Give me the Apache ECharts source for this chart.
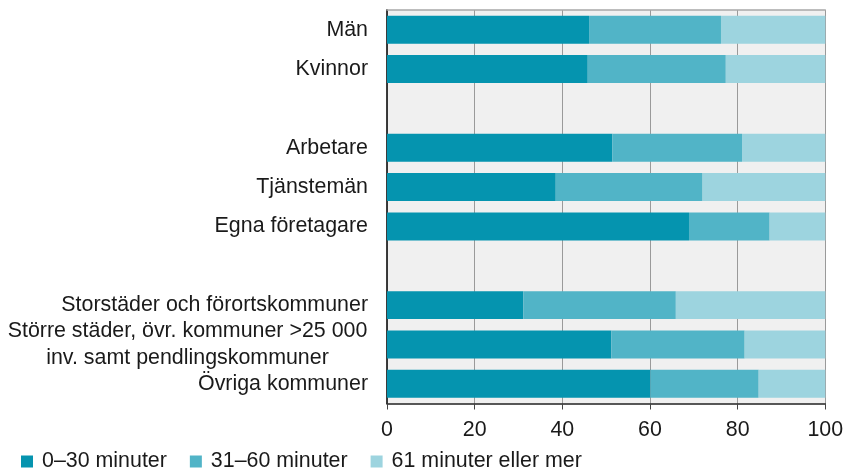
<!DOCTYPE html>
<html>
<head>
<meta charset="utf-8">
<script src="https://cdn.jsdelivr.net/npm/echarts@6/dist/echarts.min.js"></script>
<style>html,body{margin:0;padding:0;background:#fff;}#c{width:851px;height:472px;}</style>
</head>
<body>
<div id="c"></div>
<script>
const categories = ['Män', 'Kvinnor', ' ', 'Arbetare', 'Tjänstemän', 'Egna företagare', '  ',
  'Storstäder och förortskommuner', 'Större städer, övr. kommuner >25 000\ninv. samt pendlingskommuner', 'Övriga kommuner'];
const seriesNames = ['0–30 minuter', '31–60 minuter', '61 minuter eller mer'];
const short = [46.1, 45.8, null, 51.4, 38.5, 68.9, null, 31.1, 51.2, 60.1];
const medium = [30.1, 31.5, null, 29.6, 33.5, 18.4, null, 34.8, 30.4, 24.7];
const long = [23.8, 22.7, null, 19.0, 28.0, 12.7, null, 34.1, 18.4, 15.2];
const xTicks = [0, 20, 40, 60, 80, 100];

const colors = ['#0594AF', '#51B4C7', '#9DD4DF'];
const font = 'Liberation Sans, Arial, sans-serif';
const fs = 21.4;
// measure widest line of multi-line labels so the lines can be centred on each other
const mctx = document.createElement('canvas').getContext('2d');
mctx.font = fs + 'px ' + font;
function maxLineWidth(v) {
  return Math.max.apply(null, v.split('\n').map(function (s) { return mctx.measureText(s).width; }));
}
const chart = echarts.init(document.getElementById('c'));
const values = [short, medium, long];
const multi = categories.filter(function (c) { return c.indexOf('\n') >= 0; });
const richW = multi.length ? Math.ceil(maxLineWidth(multi[0])) + 1 : 100;
chart.setOption({
  animation: false,
  grid: { left: 387, right: 25.7, top: 10, bottom: 68.5, show: true, backgroundColor: '#F0F0F0', borderWidth: 0 },
  legend: {
    left: 21, top: 451, padding: 0, icon: 'rect', itemWidth: 12, itemHeight: 12, itemGap: 23,
    textStyle: { fontFamily: font, fontSize: fs, color: '#1a1a1a', padding: [0, 0, 0, 4] },
    data: seriesNames
  },
  xAxis: [{
    type: 'value', min: xTicks[0], max: xTicks[xTicks.length - 1], interval: 20,
    axisLine: { show: true, lineStyle: { color: '#222', width: 1.5 } },
    axisTick: { show: true, length: 6, lineStyle: { color: '#444' } },
    axisLabel: { fontFamily: font, fontSize: fs, color: '#1a1a1a', margin: 16 },
    splitLine: { show: true, lineStyle: { color: '#9a9a9a', width: 1 } }
  }, {
    type: 'value', position: 'top', min: 0, max: 100, interval: 20,
    axisLine: { show: true, lineStyle: { color: '#a8a8a8', width: 1.5 } },
    axisTick: { show: false }, axisLabel: { show: false }, splitLine: { show: false }
  }],
  yAxis: [{
    type: 'category', inverse: true, data: categories,
    axisLine: { show: true, lineStyle: { color: '#222', width: 1.5 } },
    axisTick: { show: false },
    axisLabel: {
      interval: 0, hideOverlap: false,
      fontFamily: font, fontSize: fs, color: '#1a1a1a', margin: 19, lineHeight: 27,
      formatter: function (v) {
        if (v.indexOf('\n') >= 0) {
          return v.split('\n').map(function (s) { return '{c|' + s + '}'; }).join('\n');
        }
        return v;
      },
      rich: { c: { width: richW, align: 'center', fontFamily: font, fontSize: fs, color: '#1a1a1a', lineHeight: 27 } }
    }
  }, {
    type: 'category', inverse: true, position: 'right', data: categories,
    axisLine: { show: true, lineStyle: { color: '#333', width: 1.5 } },
    axisTick: { show: false }, axisLabel: { show: false }
  }],
  series: seriesNames.map(function (name, i) {
    return {
      name: name, type: 'bar', stack: 'total', data: values[i],
      barCategoryGap: '29%', itemStyle: { color: colors[i] }
    };
  }),
  color: colors
});
</script>
</body>
</html>
